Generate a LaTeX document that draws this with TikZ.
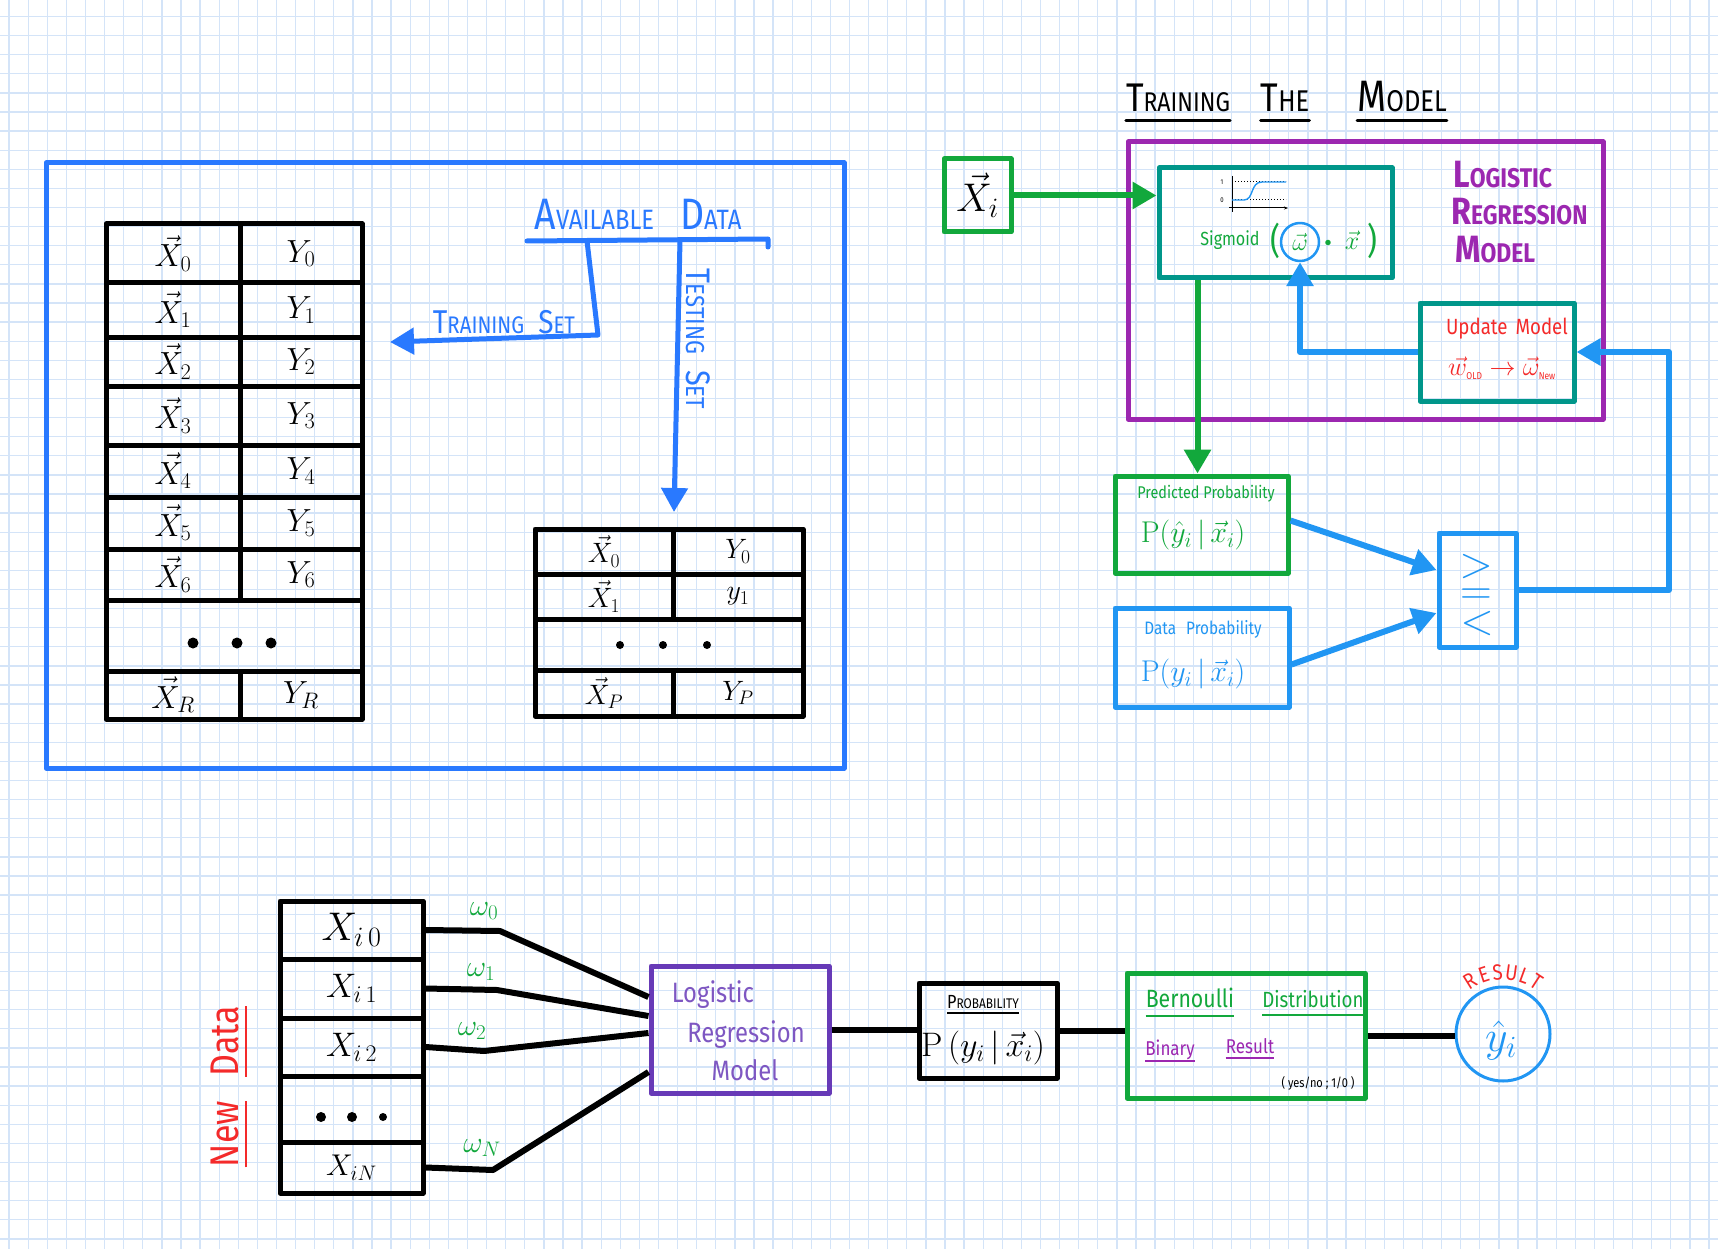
\RequirePackage{fix-cm}
\documentclass[tikz,border=0pt]{standalone}
\usepackage[no-math]{fontspec}
\setmainfont{Fira Sans}[FakeStretch=0.85]
\usepackage{graphicx}
\usetikzlibrary{arrows.meta,calc}
\definecolor{gridc}{HTML}{D4E4F8}
\definecolor{lblue}{HTML}{2979FF}
\definecolor{rblue}{HTML}{2196F3}
\definecolor{mgreen}{HTML}{12A83C}
\definecolor{tealc}{HTML}{00968A}
\definecolor{mpurp}{HTML}{9C27B0}
\definecolor{dpurp}{HTML}{673AB7}
\definecolor{lpurp}{HTML}{7E57C2}
\definecolor{mred}{HTML}{F42A2A}
\newcommand\fsz[1]{\fontsize{#1}{#1}\selectfont}
\newcommand\fsc[4]{{\fsz{#1}#3}{\fsz{#2}#4}}
\begin{document}
\begin{tikzpicture}[x=1pt,y=-1pt,line join=round,
  tc/.style={draw=black,line width=5pt,inner sep=0pt},
  bx/.style={line width=5pt,inner sep=0pt},
  myarrow/.style={-{Triangle[length=24pt,width=26pt]}},
  conn/.style={line width=6pt}]
\useasboundingbox (0,0) rectangle (1718,1249);
\fill[white] (0,0) rectangle (1718,1249);
% grid paper
\foreach \i in {0,...,89} \draw[gridc,line width=1.3pt] ({9.1+19.1*\i},0) -- ({9.1+19.1*\i},1249);
\foreach \j in {0,...,64} \draw[gridc,line width=1.3pt] (0,{16.5+19.1*\j}) -- (1718,{16.5+19.1*\j});

% ===== Available data panel =====
\node[draw=lblue,bx,minimum width=798pt,minimum height=605pt] (panel) at (445,465.5) {};

% training table
\foreach \c/\h/\s in {253.5/59/0,310/54/1,361.5/49/2,415.5/59/3,471/52/4,523/52/5,574.5/51/6,695/48/R}{
  \node[tc,minimum width=134pt,minimum height=\h pt,font=\fsz{32}] (ta\s) at (173,\c) {$\vec{X}_{\s}$};
  \node[tc,minimum width=122pt,minimum height=\h pt,font=\fsz{32}] (tb\s) at (301,\c) {$Y_{\s}$};
}
\node[tc,minimum width=256pt,minimum height=71pt] (tdots) at (234,635.5) {};
\fill (193,643) circle (5.5) (237,643) circle (5.5) (271,643) circle (5.5);

% testing table
\node[tc,minimum width=138pt,minimum height=45pt,font=\fsz{28}] (sa0) at (604,551.5) {$\vec{X}_0$};
\node[tc,minimum width=130pt,minimum height=45pt,font=\fsz{28}] (sb0) at (738,551.5) {$Y_0$};
\node[tc,minimum width=138pt,minimum height=45pt,font=\fsz{28}] (sa1) at (604,596.5) {$\vec{X}_1$};
\node[tc,minimum width=130pt,minimum height=45pt,font=\fsz{28}] (sb1) at (738,596.5) {$y_1$};
\node[tc,minimum width=268pt,minimum height=51pt] (sdots) at (669,644.5) {};
\node[tc,minimum width=138pt,minimum height=46pt,font=\fsz{28}] (saP) at (604,693) {$\vec{X}_P$};
\node[tc,minimum width=130pt,minimum height=46pt,font=\fsz{28}] (sbP) at (738,693) {$Y_P$};
\fill (620,645) circle (4) (663,645) circle (4) (707,645) circle (4);

% available data label and split
\node[lblue,anchor=base,inner sep=0] (avail) at (638,230) {\fsc{44}{28}{A}{VAILABLE}\hspace{26pt}\fsc{44}{28}{D}{ATA}};
\coordinate (al) at (527,241);
\coordinate (ar) at (768,239);
\draw[lblue,line width=5pt,line cap=round] (al) -- (ar) -- ++(0,8);
\coordinate (tbr) at (587,241);
\coordinate (tbk) at (598,335);
\coordinate (tend) at (390,342);
\draw[lblue,line width=5pt,myarrow] (tbr) -- (tbk) -- (tend);
\coordinate (sbr) at (680,240);
\coordinate (send) at (674,512);
\draw[lblue,line width=5pt,myarrow] (sbr) -- (send);
\node[lblue,anchor=base,inner sep=0] (trs) at (504,333) {\fsc{33}{24}{T}{RAINING}\hspace{14pt}\fsc{33}{24}{S}{ET}};
\node[lblue,anchor=base,inner sep=0,rotate=-90] (tes) at (686,339) {\fsc{34}{26}{T}{ESTING}\hspace{16pt}\fsc{34}{26}{S}{ET}};

% ===== Training the model =====
\node[anchor=base,inner sep=0] (t1) at (1178,112) {\fsc{40}{27}{T}{RAINING}};
\node[anchor=base,inner sep=0] (t2) at (1285,112) {\fsc{40}{30}{T}{HE}};
\node[anchor=base,inner sep=0] (t3) at (1402,112) {\fsc{44}{30}{M}{ODEL}};
\foreach \n in {t1,t2,t3} \draw[line width=3pt,line cap=round] ($(\n.base west)+(0,9)$) -- ($(\n.base east)+(0,9)$);

\node[draw=mpurp,bx,minimum width=475pt,minimum height=277pt] (lrm) at (1365.5,280.5) {};
\node[mpurp,anchor=base west,inner sep=0] (lg1) at (1453,188) {\bfseries\fsc{38}{27}{L}{OGISTIC}};
\node[mpurp,anchor=base west,inner sep=0] (lg2) at (1451,225) {\bfseries\fsc{38}{27}{R}{EGRESSION}};
\node[mpurp,anchor=base west,inner sep=0] (lg3) at (1455,263) {\bfseries\fsc{38}{27}{M}{ODEL}};

\node[draw=mgreen,bx,minimum width=67pt,minimum height=73pt,font=\fsz{40}] (xi) at (977.5,195.5) {$\vec{X}_i$};
\node[draw=tealc,bx,minimum width=233pt,minimum height=110pt] (sig) at (1275.5,223) {};
% sigmoid plot
\draw[black,line width=1pt] (1232,176) -- (1232,212);
\draw[black,line width=1pt,-{Stealth[length=4pt]}] (1229,208) -- (1288,208);
\draw[black,dotted,line width=1pt] (1232,182) -- (1286,182) (1232,200) -- (1286,200);
\draw[rblue,line width=1.4pt] (1232,200) -- (1244,200) .. controls (1254,200) and (1250,182) .. (1262,182) -- (1286,182);
\node[inner sep=0] (s1) at (1222,182) {\fsz{7}1};
\node[inner sep=0] (s0) at (1222,200) {\fsz{7}0};
\node[mgreen,inner sep=0] (sgt) at (1230,240) {\fsz{19}Sigmoid};
\node[mgreen,inner sep=0] (pl) at (1275,241) {\fsz{36}(};
\node[mgreen,inner sep=0] (pr) at (1372,241) {\fsz{36})};
\node[circle,draw=rblue,text=mgreen,line width=2.5pt,minimum size=38pt,inner sep=0] (om) at (1300,242) {\fsz{24}$\vec{\omega}$};
\node[mgreen,inner sep=0] (dotm) at (1328,243) {\fsz{14}$\bullet$};
\node[mgreen,inner sep=0] (xv) at (1352,240) {\fsz{26}$\vec{x}$};

\node[draw=tealc,bx,minimum width=154pt,minimum height=98pt] (upd) at (1497,352) {};
\node[mred,inner sep=0] (ut1) at (1507,329) {\fsz{22}Update\hspace{8pt}Model};
\node[mred,inner sep=0] (ut2) at (1502,368) {\fsz{26}$\vec{w}_{\mbox{\fsz{10}OLD}}\to\vec{\omega}_{\mbox{\fsz{10}New}}$};

\node[draw=mgreen,bx,minimum width=173pt,minimum height=97pt] (pred) at (1201.5,524.5) {};
\node[mgreen,inner sep=0] (pt1) at (1206,494) {\fsz{17}Predicted Probability};
\node[mgreen,inner sep=0] (pt2) at (1193,535) {\fsz{30}$\mathrm{P}(\hat{y}_i\,|\,\vec{x}_i)$};

\node[draw=rblue,bx,minimum width=174pt,minimum height=99pt] (data) at (1202,657.5) {};
\node[rblue,inner sep=0] (dt1) at (1203,629) {\fsz{18}Data\hspace{10pt}Probability};
\node[rblue,inner sep=0] (dt2) at (1193,674) {\fsz{30}$\mathrm{P}(y_i\,|\,\vec{x}_i)$};

\node[draw=rblue,bx,minimum width=77pt,minimum height=114pt] (comp) at (1477.5,590) {};
\node[rblue,inner sep=0] (cg) at (1476,566) {\fsz{44}$>$};
\node[rblue,inner sep=0] (ce) at (1476,597) {\fsz{44}$=$};
\node[rblue,inner sep=0] (cl) at (1477,623) {\fsz{44}$<$};

% connectors (top right)
\draw[mgreen,conn,myarrow] (xi.east) -- (sig.west |- xi.east);
\draw[mgreen,conn,myarrow] ([xshift=41pt]sig.south west) -- ([xshift=85pt]pred.north west);
\draw[rblue,conn,myarrow] (upd.west) -| (om.south);
\draw[rblue,conn,myarrow] ([yshift=4pt]pred.east) -- ([yshift=20pt]comp.west);
\draw[rblue,conn,myarrow] ([yshift=-7pt]data.east) -- ([yshift=-23pt]comp.west);
\coordinate (fb) at (1669,352);
\draw[rblue,conn,myarrow] (comp.east) -| (fb) -- (upd.east);

% ===== New data pipeline =====
\node[tc,minimum width=143pt,minimum height=58pt,font=\fsz{40}] (b0) at (351.5,930) {$X_{i\,0}$};
\node[tc,minimum width=143pt,minimum height=59pt,font=\fsz{34}] (b1) at (351.5,988.5) {$X_{i\,1}$};
\node[tc,minimum width=143pt,minimum height=58pt,font=\fsz{34}] (b2) at (351.5,1047) {$X_{i\,2}$};
\node[tc,minimum width=143pt,minimum height=66pt] (b3) at (351.5,1109) {};
\node[tc,minimum width=143pt,minimum height=51pt,font=\fsz{30}] (b4) at (351.5,1167.5) {$X_{iN}$};
\fill (321,1117) circle (5) (352,1117) circle (5) (383,1117) circle (4);

\node[mred,anchor=base,inner sep=0,rotate=90] (nd1) at (238,1041) {\fsz{40}Data};
\node[mred,anchor=base,inner sep=0,rotate=90] (nd2) at (238,1134) {\fsz{40}New};
\foreach \n in {nd1,nd2} \draw[mred,line width=2pt] ($(\n.base west)+(8,0)$) -- ($(\n.base east)+(8,0)$);

\node[draw=dpurp,bx,minimum width=178pt,minimum height=127pt] (lr) at (740,1029.5) {};
\node[lpurp,inner sep=0] (lrt1) at (713,995) {\fsz{28}Logistic};
\node[lpurp,inner sep=0] (lrt2) at (746,1035) {\fsz{28}Regression};
\node[lpurp,inner sep=0] (lrt3) at (745,1070) {\fsz{28}Model};

\draw[conn] (b0.east) -- (500,931) -- ([yshift=32.5pt]lr.west);
\draw[conn] (b1.east) -- (497,990) -- ([yshift=13.5pt]lr.west);
\draw[conn] (b2.east) -- (484,1051) -- ([yshift=-3.5pt]lr.west);
\draw[conn] (b4.east) -- (493,1170) -- ([yshift=-42.5pt]lr.west);
\node[mgreen,inner sep=0] (w0) at (484,911) {\fsz{30}$\omega_0$};
\node[mgreen,inner sep=0] (w1) at (481,972) {\fsz{30}$\omega_1$};
\node[mgreen,inner sep=0] (w2) at (472,1031) {\fsz{30}$\omega_2$};
\node[mgreen,inner sep=0] (wN) at (482,1148) {\fsz{30}$\omega_N$};

\node[tc,minimum width=138pt,minimum height=95pt] (pb) at (988,1030.5) {};
\node[anchor=base,inner sep=0] (pbt) at (983,1008) {\fsc{19}{14}{P}{ROBABILITY}};
\draw[line width=1.5pt] ($(pbt.base west)+(0,5)$) -- ($(pbt.base east)+(0,5)$);
\node[inner sep=0] (pbf) at (983,1048) {\fsz{34}$\mathrm{P}\,(y_i\,|\,\vec{x}_i)$};

\node[draw=mgreen,bx,minimum width=238pt,minimum height=125pt] (bern) at (1246,1035.5) {};
\node[mgreen,anchor=base,inner sep=0] (bb1) at (1190,1007) {\fsz{25}Bernoulli};
\node[mgreen,anchor=base,inner sep=0] (bb2) at (1313,1007) {\fsz{22}Distribution};
\node[mpurp,anchor=base,inner sep=0] (bb3) at (1170,1055) {\fsz{20}Binary};
\node[mpurp,anchor=base,inner sep=0] (bb4) at (1250,1053) {\fsz{20}Result};
\draw[mgreen,line width=1.5pt] ($(bb1.base west)+(0,9)$) -- ($(bb1.base east)+(0,9)$);
\draw[mgreen,line width=1.5pt] ($(bb2.base west)+(0,8)$) -- ($(bb2.base east)+(0,8)$);
\draw[mpurp,line width=1.5pt] ($(bb3.base west)+(0,6)$) -- ($(bb3.base east)+(0,6)$);
\draw[mpurp,line width=1.5pt] ($(bb4.base west)+(0,5)$) -- ($(bb4.base east)+(0,5)$);
\node[inner sep=0] (yn) at (1318,1083) {\fsz{13}( yes/no ; 1/0 )};

\node[circle,draw=rblue,line width=3pt,minimum size=94pt,inner sep=0] (res) at (1503,1034) {};
\node[rblue,inner sep=0] (yhat) at (1501,1040) {\fsz{44}$\hat{y}_i$};
\foreach \l/\a in {R/122,E/108,S/95,U/82,L/70,T/57}
  \node[mred,inner sep=0,rotate=\a-90] (rl\l) at ($(res.center)+(\a:62pt)$) {\fsz{22}\l};

\draw[conn] (lr.east) -- (pb.west |- lr.east);
\draw[conn] (pb.east) -- (bern.west |- pb.east);
\draw[conn] (bern.east) -- (res.west |- bern.east);
\end{tikzpicture}
\end{document}
